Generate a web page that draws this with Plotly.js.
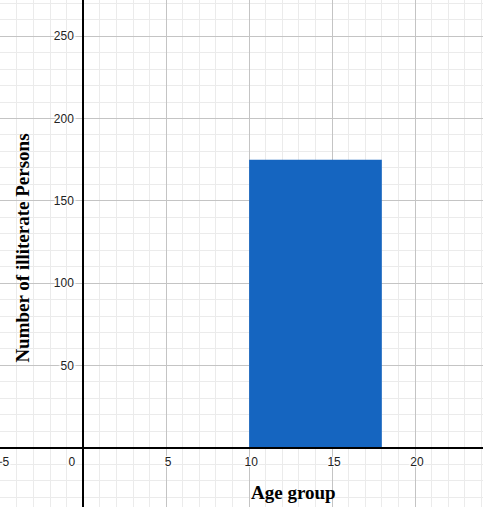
<!DOCTYPE html>
<html>
<head>
<meta charset="utf-8">
<script src="https://cdn.plot.ly/plotly-3.0.1.min.js"></script>
<style>html,body{margin:0;padding:0;background:#fff;}#chart{width:483px;height:507px;}</style>
</head>
<body>
<div id="chart"></div>
<script>
// Data
const binStart = [10];
const binEnd = [18];
const counts = [175];
const xTickVals = [-5, 0, 5, 10, 15, 20];
const xTickText = ["\u22125", "0\u00a0\u00a0\u00a0\u00a0\u00a0\u00a0\u00a0\u00a0", "5", "10", "15", "20"];
const yTickVals = [50, 100, 150, 200, 250];
const yTickText = ["50", "100", "150", "200", "250"];
const xTitle = "Age group";
const yTitle = "Number of illiterate Persons";

const xRange = [-5.02, 24.1];
const yRange = [-36, 272];

const centers = binStart.map((s, i) => (s + binEnd[i]) / 2);
const widths = binStart.map((s, i) => binEnd[i] - s);

const halo = "1px 0 1px #fff, -1px 0 1px #fff, 0 1px 1px #fff, 0 -1px 1px #fff, 2px 0 1px #fff, -2px 0 1px #fff";
const tickFont = {family: "Liberation Sans, Arial, sans-serif", size: 12, color: "#222", shadow: halo};

const trace = {
  type: "bar",
  x: centers,
  y: counts,
  width: widths,
  marker: {color: "#1565c0", line: {width: 0}},
  hoverinfo: "skip"
};

const layout = {
  width: 483, height: 507,
  margin: {l: 0, r: 0, t: 0, b: 0},
  paper_bgcolor: "#fff", plot_bgcolor: "#fff",
  showlegend: false,
  xaxis: {
    range: xRange,
    anchor: "free",
    position: (0 - yRange[0]) / (yRange[1] - yRange[0]),
    showline: true, linecolor: "#000", linewidth: 2,
    zeroline: false,
    showgrid: true, gridcolor: "#c4c4c4", gridwidth: 1,
    tickmode: "array", tickvals: xTickVals, ticktext: xTickText,
    ticks: "", ticklabelstandoff: 3, ticklabelshift: 2,
    ticklabeloverflow: "allow",
    tickfont: tickFont,
    minor: {dtick: 1, tick0: 0, showgrid: true, gridcolor: "#ebebeb", gridwidth: 1, ticks: ""},
    fixedrange: true
  },
  yaxis: {
    range: yRange,
    anchor: "free",
    position: (0 - xRange[0]) / (xRange[1] - xRange[0]),
    showline: true, linecolor: "#000", linewidth: 2,
    zeroline: false,
    showgrid: true, gridcolor: "#c4c4c4", gridwidth: 1,
    tickmode: "array", tickvals: yTickVals, ticktext: yTickText,
    ticks: "", ticklabelstandoff: 6,
    ticklabeloverflow: "allow",
    tickfont: tickFont,
    minor: {dtick: 10, tick0: 0, showgrid: true, gridcolor: "#ebebeb", gridwidth: 1, ticks: ""},
    fixedrange: true
  },
  annotations: [
    {text: "<b>" + xTitle + "</b>", xref: "paper", yref: "paper", x: 0.607, y: 0.028,
     xanchor: "center", yanchor: "middle", showarrow: false,
     font: {family: "Liberation Serif, Times New Roman, serif", size: 19, color: "#000"}},
    {text: "<b>" + yTitle + "</b>", xref: "paper", yref: "paper", x: 0.047, y: 0.511,
     xanchor: "center", yanchor: "middle", showarrow: false, textangle: -90,
     font: {family: "Liberation Serif, Times New Roman, serif", size: 19, color: "#000"}}
  ]
};

Plotly.newPlot("chart", [trace], layout, {displayModeBar: false, staticPlot: true});
</script>
</body>
</html>
